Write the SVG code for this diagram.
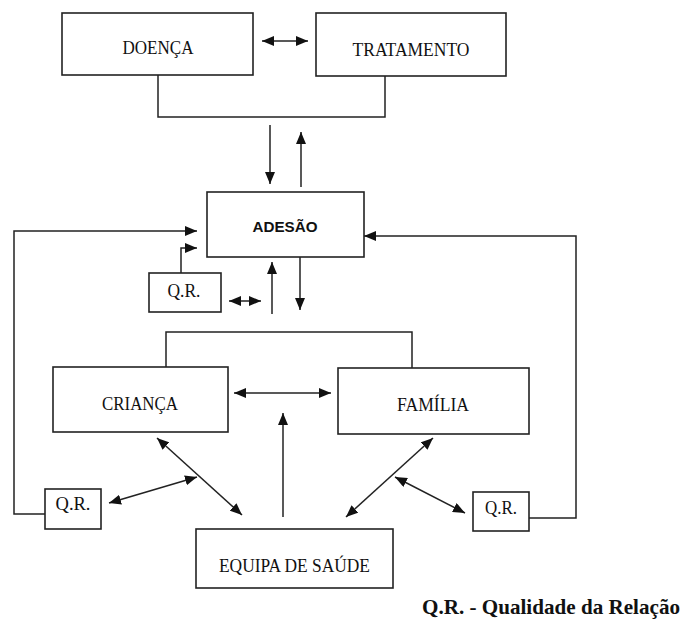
<svg xmlns="http://www.w3.org/2000/svg" width="683" height="622" viewBox="0 0 683 622">
<style>
.box{fill:#fff;stroke:#222;stroke-width:1.6}
.t{font-family:"Liberation Serif","Times New Roman",serif;font-size:18px;fill:#111;text-anchor:middle}
.tb{font-family:"Liberation Sans",Arial,sans-serif;font-size:15px;font-weight:bold;fill:#111;text-anchor:middle}
.lg{font-family:"Liberation Serif","Times New Roman",serif;font-size:21px;font-weight:bold;fill:#111}
.c{fill:none;stroke:#222;stroke-width:1.5}
.a{marker-end:url(#ah)}
.d{marker-start:url(#ah);marker-end:url(#ah)}
</style>
<defs>
<marker id="ah" markerUnits="userSpaceOnUse" markerWidth="12" markerHeight="10" refX="12" refY="5" orient="auto-start-reverse">
<path d="M0,0 L12,5 L0,10 z" fill="#111"/>
</marker>
</defs>
<rect width="683" height="622" fill="#fff"/>
<g id="connectors">
<line class="c d" x1="262" y1="41" x2="308" y2="41"/>
<polyline class="c" points="158,75 158,117 385,117 385,76"/>
<line class="c a" x1="270" y1="125" x2="270" y2="184"/>
<line class="c a" x1="301" y1="187" x2="301" y2="132"/>
<polyline class="c a" points="45,514 14,514 14,231 197,231"/>
<polyline class="c a" points="181,273 181,248 197,248"/>
<polyline class="c a" points="529,518 576,518 576,236 364,236"/>
<line class="c d" x1="229" y1="301" x2="261" y2="301"/>
<line class="c a" x1="272" y1="314" x2="272" y2="262"/>
<line class="c a" x1="300" y1="257" x2="300" y2="310"/>
<polyline class="c" points="166,367 166,332 412,332 412,368"/>
<line class="c d" x1="234" y1="393" x2="331" y2="393"/>
<line class="c a" x1="283" y1="517" x2="283" y2="413"/>
<line class="c d" x1="157" y1="438" x2="242" y2="515"/>
<line class="c d" x1="109" y1="503" x2="197" y2="477"/>
<line class="c d" x1="433" y1="438" x2="346" y2="517"/>
<line class="c d" x1="395" y1="477" x2="465" y2="513"/>
</g>
<g id="doenca">
<rect class="box" x="62" y="13" width="191" height="62"/>
<text class="t" x="158" y="54" textLength="71" lengthAdjust="spacingAndGlyphs">DOENÇA</text>
</g>
<g id="tratamento">
<rect class="box" x="316" y="13" width="190" height="63"/>
<text class="t" x="411" y="56" textLength="117" lengthAdjust="spacingAndGlyphs">TRATAMENTO</text>
</g>
<g id="adesao">
<rect class="box" x="207" y="192" width="157" height="65"/>
<text class="tb" x="285" y="232" textLength="65" lengthAdjust="spacingAndGlyphs">ADESÃO</text>
</g>
<g id="qr-top">
<rect class="box" x="149" y="273" width="72" height="39"/>
<text class="t" x="184" y="297" textLength="33" lengthAdjust="spacingAndGlyphs">Q.R.</text>
</g>
<g id="crianca">
<rect class="box" x="53" y="367" width="175" height="65"/>
<text class="t" x="140" y="410" textLength="76" lengthAdjust="spacingAndGlyphs">CRIANÇA</text>
</g>
<g id="familia">
<rect class="box" x="338" y="368" width="191" height="66"/>
<text class="t" x="433" y="411" textLength="72" lengthAdjust="spacingAndGlyphs">FAMÍLIA</text>
</g>
<g id="qr-left">
<rect class="box" x="45" y="489" width="56" height="40"/>
<text class="t" x="73" y="510" textLength="35" lengthAdjust="spacingAndGlyphs">Q.R.</text>
</g>
<g id="qr-right">
<rect class="box" x="473" y="492" width="56" height="39"/>
<text class="t" x="501" y="514" textLength="32" lengthAdjust="spacingAndGlyphs">Q.R.</text>
</g>
<g id="equipa">
<rect class="box" x="196" y="529" width="197" height="59"/>
<text class="t" x="294.5" y="572" textLength="151" lengthAdjust="spacingAndGlyphs">EQUIPA DE SAÚDE</text>
</g>
<g id="legend">
<text class="lg" x="422" y="614" textLength="258" lengthAdjust="spacingAndGlyphs">Q.R. - Qualidade da Relação</text>
</g>
</svg>
